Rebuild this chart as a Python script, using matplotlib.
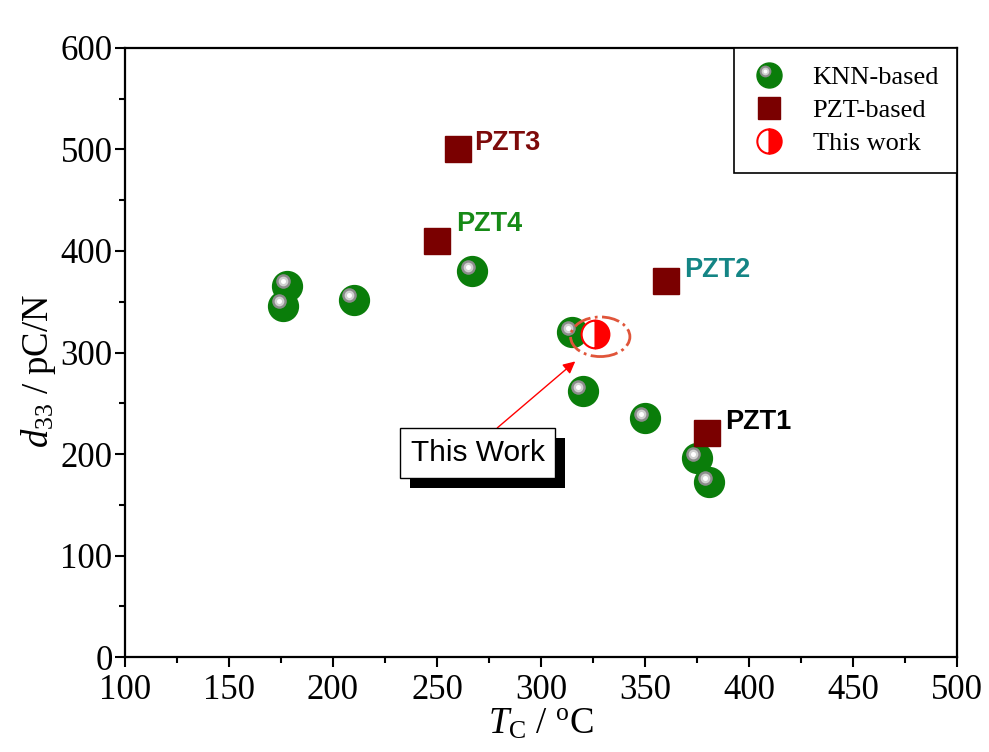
import matplotlib
matplotlib.use("Agg")
import matplotlib.pyplot as plt
import matplotlib.patheffects as pe
from matplotlib.patches import Ellipse
from matplotlib.lines import Line2D
from matplotlib.legend_handler import HandlerBase
from matplotlib.transforms import offset_copy
from matplotlib.ticker import MultipleLocator

plt.rcParams['font.family'] = ['Liberation Serif', 'DejaVu Serif']
plt.rcParams['mathtext.fontset'] = 'custom'
plt.rcParams['mathtext.rm'] = 'Liberation Serif'
plt.rcParams['mathtext.it'] = 'Liberation Serif:italic'

# KNN-based ceramics: Curie temperature (°C) and d33 (pC/N)
knn_tc = [178, 176, 210, 267, 315, 320, 350, 375, 381]
knn_d33 = [366, 346, 352, 380, 320, 262, 235, 196, 172]

# PZT reference ceramics
pzt_names = ['PZT1', 'PZT2', 'PZT3', 'PZT4']
pzt_tc = [380, 360, 260, 250]
pzt_d33 = [221, 370, 500, 410]
pzt_colors = ['black', '#148585', '#7d0a0a', '#168a16']
pzt_offsets = [(13, 8), (13, 8), (12, 5), (14, 12)]

# present sample
work_tc = [326]
work_d33 = [318]

GREEN = '#0a7d0a'
MAROON = '#7a0000'


class BallHandler(HandlerBase):
    def create_artists(self, legend, orig_handle, xdescent, ydescent,
                       width, height, fontsize, trans):
        cx = 0.5 * width - xdescent
        cy = 0.5 * height - ydescent
        arts = [Line2D([cx], [cy], marker='o', ms=18, mfc=GREEN, mec=GREEN, ls='none'),
                Line2D([cx - 2.8], [cy + 2.8], marker='o', ms=8.5, mfc='#8c8c8c', mec='none', ls='none'),
                Line2D([cx - 2.8], [cy + 2.8], marker='o', ms=5.5, mfc='#d0d0d0', mec='none', ls='none'),
                Line2D([cx - 2.8], [cy + 2.8], marker='o', ms=2.8, mfc='white', mec='none', ls='none')]
        for a in arts:
            a.set_transform(trans)
        return arts


fig = plt.figure(figsize=(9.89, 7.52), dpi=100)
ax = fig.add_axes([0.1264, 0.1263, 0.8412, 0.8099])

ax.set_xlim(100, 500)
ax.set_ylim(0, 600)

# green balls with a grey/white highlight up-left
ax.plot(knn_tc, knn_d33, 'o', ms=21.5, mfc=GREEN, mec=GREEN, zorder=3)
hl = offset_copy(ax.transData, fig=fig, x=-3.2, y=3.2, units='points')
ax.plot(knn_tc, knn_d33, 'o', ms=10.5, mfc='#8c8c8c', mec='none', transform=hl, zorder=4)
ax.plot(knn_tc, knn_d33, 'o', ms=7, mfc='#d0d0d0', mec='none', transform=hl, zorder=4)
ax.plot(knn_tc, knn_d33, 'o', ms=3.6, mfc='white', mec='none', transform=hl, zorder=4)

ax.plot(pzt_tc, pzt_d33, 's', ms=19, mfc=MAROON, mec=MAROON, zorder=5)
for name, x, y, c, off in zip(pzt_names, pzt_tc, pzt_d33, pzt_colors, pzt_offsets):
    ax.annotate(name, (x, y), xytext=off, textcoords='offset points',
                fontsize=19.5, fontweight='bold', color=c, family='Liberation Sans',
                ha='left', va='center')

ax.plot(work_tc, work_d33, 'o', ms=20, fillstyle='right', mfc='red',
        markerfacecoloralt='white', mec='red', mew=1.5, zorder=6)

ax.add_patch(Ellipse((328.5, 315.5), 28.5, 39, fill=False, ls='-.', ec='#e0553a', lw=2, zorder=6))
ax.annotate('', xy=(317.5, 293), xytext=(278, 224),
            arrowprops=dict(arrowstyle='-|>', color='red', lw=1, mutation_scale=18))

box = ax.text(269.5, 201, 'This Work', ha='center', va='center', fontsize=21.5,
              family='Liberation Sans', zorder=7,
              bbox=dict(boxstyle='square,pad=0.36', fc='white', ec='black', lw=1))
box.get_bbox_patch().set_path_effects([
    pe.SimplePatchShadow(offset=(7.2, -7.2), shadow_rgbFace='black', alpha=1),
    pe.Normal()])

knn_h = Line2D([], [], ls='none')
pzt_h = Line2D([], [], marker='s', ms=16.5, mfc=MAROON, mec=MAROON, ls='none')
work_h = Line2D([], [], marker='o', ms=17.5, fillstyle='right', mfc='red',
                markerfacecoloralt='white', mec='red', mew=1.5, ls='none')
leg = ax.legend([knn_h, pzt_h, work_h], ['KNN-based', 'PZT-based', 'This work'],
                handler_map={knn_h: BallHandler()}, loc='upper right',
                borderaxespad=0, fontsize=19, fancybox=False, framealpha=1,
                edgecolor='black', labelspacing=0.36, handletextpad=1.0,
                borderpad=0.68, handlelength=1.3)
leg.get_frame().set_linewidth(1.2)

ax.xaxis.set_major_locator(MultipleLocator(50))
ax.xaxis.set_minor_locator(MultipleLocator(25))
ax.yaxis.set_major_locator(MultipleLocator(100))
ax.yaxis.set_minor_locator(MultipleLocator(50))
ax.tick_params(which='both', direction='out', width=1.5, labelsize=25)
ax.tick_params(axis='x', pad=5)
ax.tick_params(axis='y', pad=2)
ax.tick_params(which='major', length=7)
ax.tick_params(which='minor', length=4.5)
for s in ax.spines.values():
    s.set_linewidth(1.6)

ax.set_xlabel(r'$T_{\mathrm{C}}$ / $^{\mathrm{o}}$C', fontsize=26.5, labelpad=0)
ax.set_ylabel(r'$d_{33}$ / pC/N', fontsize=26.5)
ax.yaxis.set_label_coords(-0.08, 0.47)

fig.savefig('out.png', dpi=100)
